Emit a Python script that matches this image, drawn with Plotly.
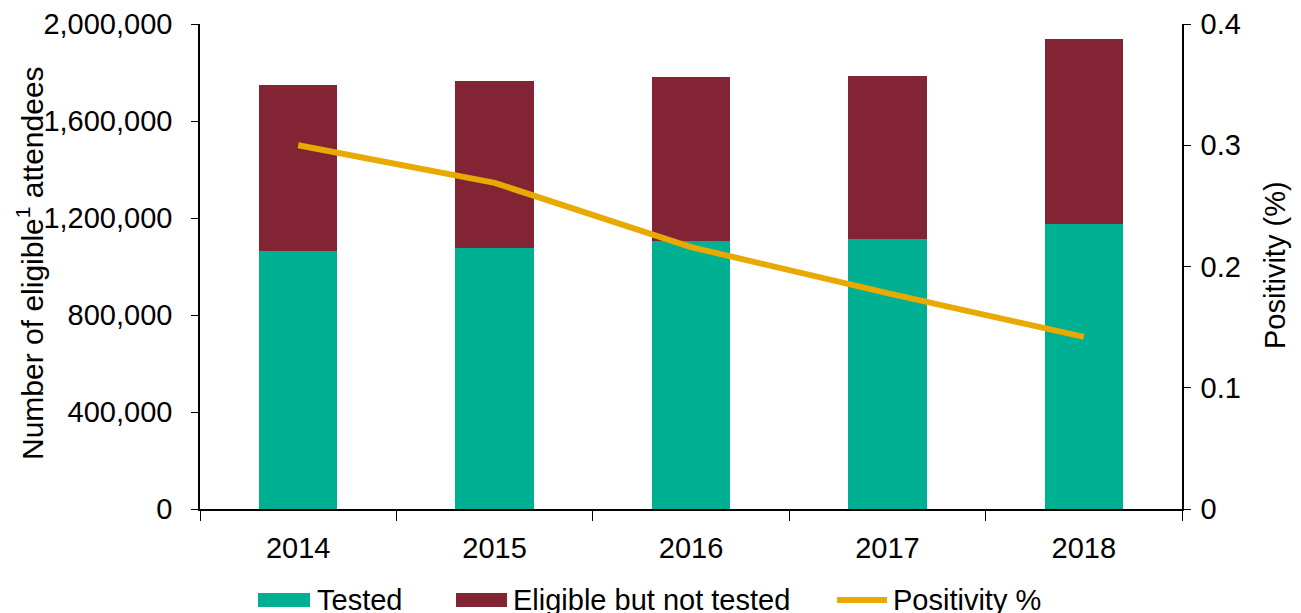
import plotly.graph_objects as go

years = ["2014", "2015", "2016", "2017", "2018"]
tested = [1065000, 1076000, 1106000, 1113000, 1175000]
not_tested = [683000, 689000, 675000, 673000, 763000]
positivity = [0.300, 0.269, 0.216, 0.178, 0.142]

C_TESTED = "#00B092"
C_NOT = "#822433"
C_POS = "#E8A900"

FONT = "Liberation Sans, Arial, sans-serif"
fs = 29

# page body has an 8px margin; figure placed at (8, 8) in the window
OFF = 8
W, H = 1301 - OFF, 613 - OFF
L, T = 200 - OFF, 24 - OFF
PW, PH = 982, 485
R, B = W - L - PW, H - T - PH


def px(x):
    return (x - OFF - L) / PW


def py(y):
    return (H - B - (y - OFF)) / PH


fig = go.Figure()
fig.add_trace(go.Bar(x=years, y=tested, name="Tested", marker_color=C_TESTED,
                     marker_line_width=0, width=0.4))
fig.add_trace(go.Bar(x=years, y=not_tested, name="Eligible but not tested",
                     marker_color=C_NOT, marker_line_width=0, width=0.4))
fig.add_trace(go.Scatter(x=years, y=positivity, name="Positivity %", yaxis="y2",
                         mode="lines", line=dict(color=C_POS, width=6)))

shapes = [
    dict(type="rect", xref="paper", yref="paper", x0=px(258), x1=px(310),
         y0=py(607), y1=py(593), fillcolor=C_TESTED, line_width=0),
    dict(type="rect", xref="paper", yref="paper", x0=px(456), x1=px(507),
         y0=py(607), y1=py(593), fillcolor=C_NOT, line_width=0),
    dict(type="line", xref="paper", yref="paper", x0=px(837), x1=px(887),
         y0=py(600), y1=py(600), line=dict(color=C_POS, width=6)),
]

legend_texts = [("Tested", 315), ("Eligible but not tested", 511), ("Positivity %", 891)]
annotations = []
for txt, x in legend_texts:
    annotations.append(dict(text=txt, xref="paper", yref="paper", x=px(x), y=py(600),
                            xanchor="left", yanchor="middle", showarrow=False,
                            font=dict(size=fs, family=FONT, color="black")))

annotations.append(dict(text="Number of eligible<sup>1</sup> attendees", xref="paper",
                        yref="paper", x=px(30), y=py(263), xanchor="center",
                        yanchor="middle", textangle=-90, showarrow=False,
                        font=dict(size=fs + 1, family=FONT, color="black")))
annotations.append(dict(text="Positivity (%)", xref="paper", yref="paper", x=px(1275),
                        y=py(265), xanchor="center", yanchor="middle", textangle=-90,
                        showarrow=False, font=dict(size=fs, family=FONT, color="black")))

fig.update_layout(
    width=W, height=H,
    barmode="stack",
    plot_bgcolor="white", paper_bgcolor="white",
    margin=dict(l=L, r=R, t=T, b=B, autoexpand=False),
    font=dict(family=FONT, size=fs, color="#000000"),
    showlegend=False,
    shapes=shapes,
    annotations=annotations,
    xaxis=dict(showline=True, linecolor="black", linewidth=1.5, ticks="outside",
               tickson="boundaries", ticklen=10, tickcolor="black", showgrid=False,
               tickfont=dict(size=fs), automargin=False, ticklabelstandoff=12),
    yaxis=dict(range=[0, 2000000], dtick=400000, tickformat=",", showline=True,
               linecolor="black", linewidth=1.5, ticks="outside", ticklen=7,
               tickcolor="black", showgrid=False, zeroline=False, automargin=False,
               ticklabelstandoff=13),
    yaxis2=dict(range=[0, 0.4], dtick=0.1, overlaying="y", side="right", showline=True,
                linecolor="black", linewidth=1.5, ticks="outside", ticklen=7,
                tickcolor="black", showgrid=False, zeroline=False, automargin=False,
                ticklabelstandoff=4),
)

fig.write_html("out.html")
